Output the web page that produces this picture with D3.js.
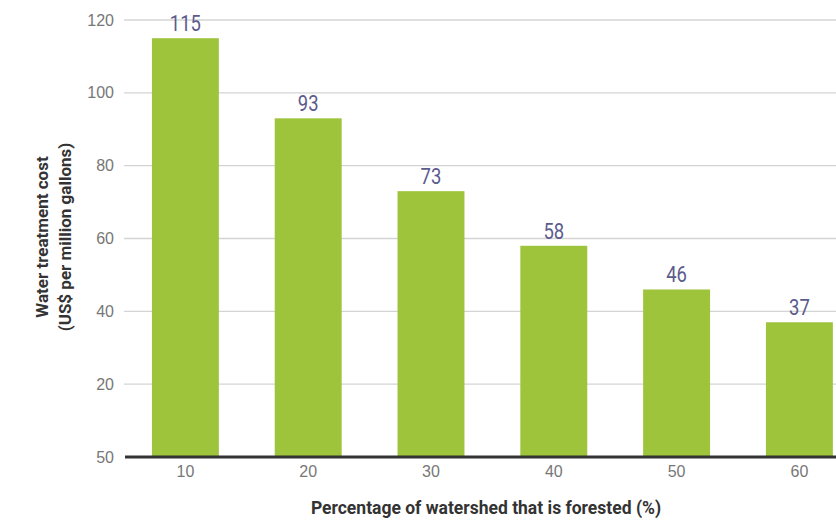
<!DOCTYPE html>
<html>
<head>
<meta charset="utf-8">
<script src="https://cdn.jsdelivr.net/npm/d3@7"></script>
<style>
  html, body { margin: 0; padding: 0; background: #fff; }
  svg { display: block; font-family: Roboto, "Noto Sans", sans-serif; }
</style>
</head>
<body>
<svg id="chart" width="836" height="520"></svg>
<script>
const categories = ["10", "20", "30", "40", "50", "60"];
const values = [115, 93, 73, 58, 46, 37];
const yTickValues = [0, 20, 40, 60, 80, 100, 120];
const yTickLabels = ["50", "20", "40", "60", "80", "100", "120"];
const yTitleLines = ["Water treatment cost", "(US$ per million gallons)"];
const xTitle = "Percentage of watershed that is forested (%)";

const svg = d3.select("#chart");
const W = 836, H = 520;
const plotLeft = 124, plotTop = 20, plotBottom = 457;

const x = d3.scaleBand().domain(categories).range([plotLeft, plotLeft + 6 * 122.8]).paddingInner(0.455).paddingOuter(0.2275);
const y = d3.scaleLinear().domain([0, 120]).range([plotBottom, plotTop]);

// gridlines
svg.append("g").selectAll("line").data(yTickValues.filter(d => d > 0)).join("line")
  .attr("x1", plotLeft).attr("x2", W)
  .attr("y1", d => y(d)).attr("y2", d => y(d))
  .attr("stroke", "#d4d4d4").attr("stroke-width", 1.3);

// y axis labels
const yAxis = d3.axisLeft(y).tickValues(yTickValues)
  .tickFormat((d, i) => yTickLabels[i]).tickSize(0).tickPadding(10);
const gy = svg.append("g").attr("transform", `translate(${plotLeft},0)`).call(yAxis);
gy.select(".domain").remove();
gy.selectAll("text").attr("fill", "#777").style("font-size", "16px");

// bars
svg.append("g").selectAll("rect").data(values).join("rect")
  .attr("x", (d, i) => x(categories[i]))
  .attr("width", x.bandwidth())
  .attr("y", d => y(d))
  .attr("height", d => y(0) - y(d))
  .attr("fill", "#9dc43b");

// value labels (condensed look)
svg.append("g").selectAll("text").data(values).join("text")
  .attr("transform", (d, i) => `translate(${x(categories[i]) + x.bandwidth() / 2},${y(d) - 7}) scale(0.84,1)`)
  .attr("text-anchor", "middle")
  .attr("fill", "#5b5b8c")
  .style("font-size", "22px")
  .text(d => d);

// x axis
const xAxis = d3.axisBottom(x).tickSize(0).tickPadding(9);
const gx = svg.append("g").attr("transform", `translate(0,${plotBottom})`).call(xAxis);
gx.select(".domain").remove();
gx.selectAll("text").attr("fill", "#777").style("font-size", "16px");

// baseline
svg.append("line").attr("x1", plotLeft + 1).attr("x2", W)
  .attr("y1", y(0)).attr("y2", y(0))
  .attr("stroke", "#333").attr("stroke-width", 3);

// y title
const yt = svg.append("text")
  .attr("transform", `translate(51,237) rotate(-90)`)
  .attr("text-anchor", "middle")
  .attr("fill", "#333").style("font-weight", "bold").style("font-size", "17px");
yTitleLines.forEach((t, i) => {
  yt.append("tspan").attr("x", 0).attr("dy", i === 0 ? "-0.15em" : "1.3em").text(t);
});

// x title
svg.append("text").attr("x", 486).attr("y", 514)
  .attr("text-anchor", "middle").attr("fill", "#333")
  .style("font-weight", "bold").style("font-size", "17.5px")
  .text(xTitle);
</script>
</body>
</html>
